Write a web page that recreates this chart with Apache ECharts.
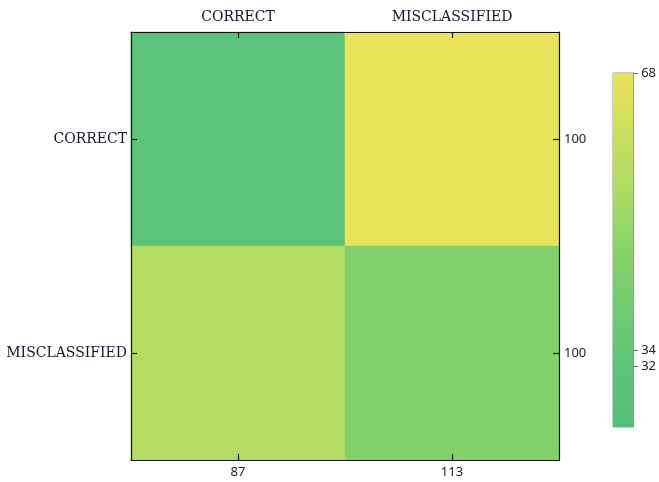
<!DOCTYPE html>
<html><head><meta charset="utf-8">
<script src="https://cdn.jsdelivr.net/npm/echarts@6/dist/echarts.min.js"></script>
<style>html,body{margin:0;padding:0;background:#fff}#c{width:659px;height:482px}</style>
</head><body><div id="c"></div>
<script>
const classes = ['CORRECT', 'MISCLASSIFIED'];
// rows: actual, cols: predicted
const rowCorrect = [32, 68];
const rowMisclassified = [55, 45];
const colTotals = ['87', '113'];
const rowTotals = ['100', '100'];
const barTicks = [68, 34, 32];
const barMin = 24.6, barMax = 68;

const stops = [[24.6,'#54bf7b'],[32,'#5cc47a'],[45,'#83d16a'],[55,'#b3dc62'],[68,'#e9e35a']];
function hex(c){return [1,3,5].map(i=>parseInt(c.substr(i,2),16));}
function colorAt(v){
  for(let i=0;i<stops.length-1;i++){
    const [a,ca]=stops[i],[b,cb]=stops[i+1];
    if(v<=b){const t=(v-a)/(b-a);const A=hex(ca),B=hex(cb);
      return 'rgb('+A.map((x,k)=>Math.round(x+(B[k]-x)*t)).join(',')+')';}
  }
  return stops[stops.length-1][1];
}
const rows=[rowCorrect,rowMisclassified];
const cells=[];
rows.forEach((r,ri)=>r.forEach((v,ci)=>cells.push({value:[ci,ri,v],itemStyle:{color:colorAt(v)}})));

const serif={fontFamily:'DejaVu Serif',fontSize:14,color:'#15152a'};
const sans={fontFamily:'Noto Sans',fontSize:13,color:'#222'};
const line={show:true,lineStyle:{color:'#111',width:1.2}};
const tickIn={show:true,inside:true,length:6,alignWithLabel:true,lineStyle:{color:'#111',width:1.2}};

const chart=echarts.init(document.getElementById('c'),null,{renderer:'canvas'});
chart.setOption({
  animation:false,
  grid:[
    {left:131,top:32,width:428,height:428,show:false},
    {left:613,top:73,width:24,height:354,show:true,borderColor:'#999',borderWidth:1,backgroundColor:'transparent'}
  ],
  xAxis:[
    {type:'category',gridIndex:0,position:'top',z:10,data:classes,axisLine:line,axisTick:tickIn,axisLabel:Object.assign({margin:8},serif),splitLine:{show:false}},
    {type:'category',gridIndex:0,position:'bottom',z:10,data:colTotals,axisLine:line,axisTick:tickIn,axisLabel:Object.assign({margin:6},sans)},
    {type:'category',gridIndex:1,data:['c'],show:false}
  ],
  yAxis:[
    {type:'category',gridIndex:0,position:'left',z:10,inverse:true,data:classes,axisLine:line,axisTick:tickIn,axisLabel:Object.assign({margin:4},serif)},
    {type:'category',gridIndex:0,position:'right',z:10,inverse:true,data:rowTotals,axisLine:line,axisTick:tickIn,axisLabel:Object.assign({margin:5},sans)},
    {type:'value',gridIndex:1,position:'right',z:10,min:barMin,max:barMax,splitLine:{show:false},
      axisLine:{show:true,lineStyle:{color:'#999'}},
      axisTick:{show:true,inside:false,length:5,customValues:barTicks,lineStyle:{color:'#666'}},
      axisLabel:Object.assign({margin:8,customValues:barTicks},sans)}
  ],
  series:[
    {type:'heatmap',xAxisIndex:0,yAxisIndex:0,data:cells,label:{show:false},emphasis:{disabled:true}},
    {type:'bar',xAxisIndex:2,yAxisIndex:2,data:[barMax],barWidth:'100%',silent:true,
      itemStyle:{color:new echarts.graphic.LinearGradient(0,0,0,1,
        stops.slice().reverse().map(s=>({offset:(barMax-s[0])/(barMax-barMin),color:s[1]})))}}
  ]
});
</script></body></html>
